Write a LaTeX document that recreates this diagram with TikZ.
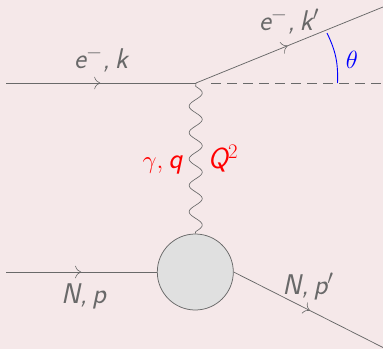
\documentclass[tikz,border=0pt]{standalone}
\usetikzlibrary{decorations.markings,arrows.meta,calc}
\definecolor{bgc}{HTML}{F5E8E9}
\definecolor{linec}{HTML}{696969}
\definecolor{blobc}{HTML}{E0E0E0}
\newcommand{\sv}[1]{{\sffamily\slshape #1}}
\tikzset{
 fermion/.style={draw=linec,line width=0.75pt,postaction={decorate},decoration={markings,mark=at position #1 with {\arrow[linec,line width=0.6pt]{Computer Modern Rightarrow[length=6pt,width=12.5pt]}}}},
 photon/.style={draw=linec,line width=0.65pt},
 graylabel/.style={text=linec,font=\fontsize{28.5}{30}\selectfont,inner sep=0pt,anchor=base},
 redlabel/.style={text=red,font=\fontsize{29}{31}\selectfont,inner sep=0pt,anchor=base},
}
\begin{document}
\begin{tikzpicture}[x=1pt,y=-1pt]
\path[use as bounding box,fill=bgc] (0,0) rectangle (383,349);
\coordinate (v) at (196,83);
\coordinate (inL) at (6,83);
\coordinate (outR) at (383,7);
\coordinate (dashR) at (381,83);
\coordinate (nL) at (6,272);
\coordinate (nR) at (383,347.5);
\coordinate (arcA) at (327,33);
\coordinate (arcB) at (337.5,83);
\node[circle,draw=linec,fill=blobc,line width=0.75pt,minimum size=76pt,inner sep=0pt] (blob) at (195.3,272) {};
\path[fermion=0.496] (inL) -- (v);
\path[fermion=0.49] (v) -- (outR);
\draw[linec,line width=0.7pt,dash pattern=on 10pt off 6pt] ($(v)+(15,0)$) -- (dashR);
\draw[photon] (v) -- plot[domain=86.4:231.6,samples=220,variable=\t] ({195.7+6.5*cos((\t-93)/13.2*180)},{\t}) -- (blob.north);
\path[fermion=0.498] (nL) -- (blob.west);
\path[fermion=0.51] (blob.east) -- (nR);
\draw[blue,line width=0.9pt] (arcA) to[bend left=14] (arcB);
\node[graylabel] (l1) at (101,68) {\sv{e}$^{-}$\sv{,\,k}};
\node[graylabel] (l2) at (289,30) {\sv{e}$^{-}$\sv{,\,k}$'$};
\node[graylabel] (l3) at (83.5,303) {\sv{N,\,p}};
\node[graylabel] (l4) at (308,294) {\sv{N,\,p}$'$};
\node[text=blue,font=\fontsize{30}{32}\selectfont,inner sep=0pt,anchor=base] (th) at (352,68) {$\theta$};
\node[redlabel] (g) at (162.5,168) {$\gamma,$\,\sv{q}};
\node[redlabel] (q2) at (223,168) {\sv{Q}$^{2}$};
\end{tikzpicture}
\end{document}
